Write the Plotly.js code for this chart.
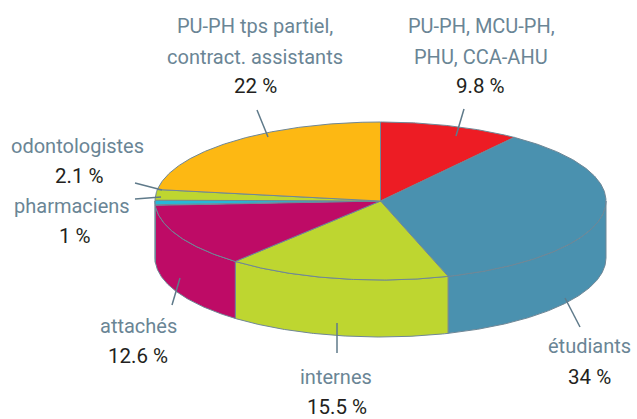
<!DOCTYPE html>
<html>
<head>
<meta charset="utf-8">
<script src="https://cdn.plot.ly/plotly-3.0.1.min.js"></script>
<style>
html,body{margin:0;padding:0;background:#fff;}
#chart{width:637px;height:419px;}
</style>
</head>
<body>
<div id="chart"></div>
<script>
// ---- data (clockwise from the top) ----
const categories = ['PU-PH, MCU-PH, PHU, CCA-AHU', 'étudiants', 'internes', 'attachés', 'pharmaciens', 'odontologistes', 'PU-PH tps partiel, contract. assistants'];
const values = [9.8, 34, 15.5, 12.6, 1, 2.1, 22];
const labelLines = [['PU-PH, MCU-PH,', 'PHU, CCA-AHU'], ['étudiants'], ['internes'], ['attachés'], ['pharmaciens'], ['odontologistes'], ['PU-PH tps partiel,', 'contract. assistants']];
const percentLabels = values.map(v => v + ' %');

// ---- styles / geometry ----
const colors = ['#ED1C24', '#4A91AF', '#BED630', '#BE0B66', '#27B8D8', '#BED630', '#FDB813'];
const edge = '#6F8796';
const geo = {cx: 380.5, cy: 201, a: 225.5, b: 79, depth: 57};
const labelPos = [
  {x: 481, ny: [26, 57], px: 480, py: 86, lead: [456, 136, 464, 109]},
  {x: 589, ny: [346], px: 589, py: 377, lead: [565, 298, 580, 327]},
  {x: 336, ny: [377], px: 337, py: 407, lead: [337, 323, 337, 353]},
  {x: 138, ny: [326], px: 138, py: 356, lead: [180, 278, 172, 305]},
  {x: 72, ny: [206], px: 75, py: 236, lead: [161, 197, 135, 199]},
  {x: 77, ny: [146], px: 79, py: 176, lead: [162, 190, 135, 183]},
  {x: 255, ny: [26, 57], px: 255, py: 86, lead: [268, 137, 257, 110]}
];
const nameColor = '#6A8595';
const pctColor = '#231F20';
const fontFam = 'Roboto, "Liberation Sans", sans-serif';

const total = values.reduce((s, v) => s + v, 0);
function pt(phiDeg, dy) {
  const t = (phiDeg - 90) * Math.PI / 180;
  return [geo.cx + geo.a * Math.cos(t), geo.cy + geo.b * Math.sin(t) + (dy || 0)];
}
function arc(p0, p1, dy) {
  const xs = [], ys = [];
  const n = Math.max(2, Math.ceil(Math.abs(p1 - p0) * 2));
  for (let i = 0; i <= n; i++) {
    const p = pt(p0 + (p1 - p0) * i / n, dy);
    xs.push(p[0]); ys.push(p[1]);
  }
  return [xs, ys];
}

const sides = [], tops = [];
let cum = 0;
values.forEach((v, i) => {
  const p0 = cum / total * 360;
  const p1 = (cum + v) / total * 360;
  cum += v;
  // side wall (visible front half: phi in [90,270])
  const s0 = Math.max(p0, 90), s1 = Math.min(p1, 270);
  if (s1 > s0) {
    const [tx, ty] = arc(s0, s1, 0);
    const [bx, by] = arc(s1, s0, geo.depth);
    sides.push({
      type: 'scatter', mode: 'lines', x: tx.concat(bx, [tx[0]]), y: ty.concat(by, [ty[0]]),
      fill: 'toself', fillcolor: colors[i], line: {color: edge, width: 1},
      hoverinfo: 'skip', showlegend: false
    });
  }
  const [ax, ay] = arc(p0, p1, 0);
  tops.push({
    type: 'scatter', mode: 'lines', x: [geo.cx].concat(ax, [geo.cx]), y: [geo.cy].concat(ay, [geo.cy]),
    fill: 'toself', fillcolor: colors[i], line: {color: edge, width: 1},
    hoverinfo: 'skip', showlegend: false, name: categories[i]
  });
});

const annotations = [];
const shapes = [];
labelPos.forEach((L, i) => {
  labelLines[i].forEach((txt, k) => {
    annotations.push({x: L.x, y: L.ny[k], xref: 'x', yref: 'y', text: txt, showarrow: false,
      xanchor: 'center', yanchor: 'middle', font: {family: fontFam, size: 20, color: nameColor}});
  });
  annotations.push({x: L.px, y: L.py, xref: 'x', yref: 'y', text: percentLabels[i], showarrow: false,
    xanchor: 'center', yanchor: 'middle', font: {family: fontFam, size: 20.5, color: pctColor}});
  shapes.push({type: 'line', xref: 'x', yref: 'y', x0: L.lead[0], y0: L.lead[1], x1: L.lead[2], y1: L.lead[3],
    line: {color: '#5F7A8A', width: 1.5}, layer: 'above'});
});

const layout = {
  width: 637, height: 419,
  margin: {l: 0, r: 0, t: 0, b: 0},
  paper_bgcolor: '#fff', plot_bgcolor: '#fff',
  xaxis: {range: [0, 637], visible: false, fixedrange: true},
  yaxis: {range: [419, 0], visible: false, fixedrange: true},
  annotations: annotations, shapes: shapes, showlegend: false
};
Plotly.newPlot('chart', sides.concat(tops), layout, {displayModeBar: false, staticPlot: true});
</script>
</body>
</html>
